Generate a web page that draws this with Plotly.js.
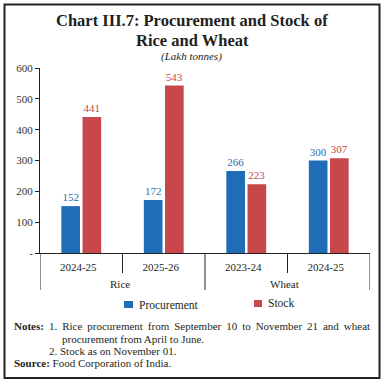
<!DOCTYPE html>
<html>
<head>
<meta charset="utf-8">
<script src="https://cdn.plot.ly/plotly-3.0.1.min.js"></script>
<style>html,body{margin:0;padding:0;background:#fff;}#chart{width:384px;height:384px;}</style>
</head>
<body>
<div id="chart"></div>
<script>
const groups = ["Rice", "Rice", "Wheat", "Wheat"];
const years = ["2024-25", "2025-26", "2023-24", "2024-25"];
const procurement = [152, 172, 266, 300];
const stock = [441, 543, 223, 307];
const yTickVals = [0, 100, 200, 300, 400, 500, 600];
const yTickText = ["-", "100", "200", "300", "400", "500", "600"];
const groupNames = ["Rice", "Wheat"];
const seriesNames = ["Procurement", "Stock"];

const BLUE = "#1f6db6";
const RED = "#c8474b";
const INK = "#231f20";
const FONT = "Liberation Serif";

// plot area in pixels
const L = 40, R = 14, T = 68, B = 131;
const W = 384 - L - R, H = 384 - T - B;
const px = x => (x - L) / W;
const py = y => (384 - B - y) / H;
const yPaperPix = y => py(y);

const keys = groups.map((g, i) => g + "|" + years[i]);
const justify = s => s.split(" ").join(" \u2009");

const traces = [
  {
    type: "bar", name: seriesNames[0],
    x: keys, y: procurement,
    marker: {color: BLUE},
    text: procurement.map(String), textposition: "outside",
    textfont: {color: BLUE, family: FONT, size: 11},
    cliponaxis: false
  },
  {
    type: "bar", name: seriesNames[1],
    x: keys, y: stock,
    marker: {color: RED},
    text: stock.map(String), textposition: "outside",
    textfont: {color: RED, family: FONT, size: 11},
    cliponaxis: false
  }
];

// group centres (in category index units)
const groupCentres = groupNames.map(g => {
  const idx = groups.map((v, i) => v === g ? i : -1).filter(i => i >= 0);
  return (idx[0] + idx[idx.length - 1]) / 2;
});

const dividerShapes = [];
for (let i = 0; i <= groups.length; i++) {
  const isGroupEdge = i === 0 || i === groups.length || groups[i] !== groups[i - 1];
  dividerShapes.push({
    type: "line", xref: "x", yref: "paper",
    x0: i - 0.5, x1: i - 0.5, y0: 0, y1: py(isGroupEdge ? 290 : 273),
    line: {color: "#222", width: 1}
  });
}

const annotations = [
  {xref: "paper", yref: "paper", x: px(192), y: py(20), text: "<b>Chart III.7: Procurement and Stock of</b>",
   showarrow: false, font: {family: FONT, size: 16.5, color: INK}, xanchor: "center", yanchor: "middle"},
  {xref: "paper", yref: "paper", x: px(192), y: py(40), text: "<b>Rice and Wheat</b>",
   showarrow: false, font: {family: FONT, size: 16.5, color: INK}, xanchor: "center", yanchor: "middle"},
  {xref: "paper", yref: "paper", x: px(191), y: py(57), text: "<i>(Lakh tonnes)</i>",
   showarrow: false, font: {family: FONT, size: 11, color: INK}, xanchor: "center", yanchor: "middle"},
  {xref: "paper", yref: "paper", x: px(12), y: py(326), text: "<b>Notes:</b>",
   showarrow: false, font: {family: FONT, size: 11, color: INK}, xanchor: "left", yanchor: "middle"},
  {xref: "paper", yref: "paper", x: px(47), y: py(326), text: justify("1. Rice procurement from September 10 to November 21 and wheat"),
   showarrow: false, font: {family: FONT, size: 11, color: INK}, xanchor: "left", yanchor: "middle"},
  {xref: "paper", yref: "paper", x: px(60), y: py(339), text: "procurement from April to June.",
   showarrow: false, font: {family: FONT, size: 11, color: INK}, xanchor: "left", yanchor: "middle"},
  {xref: "paper", yref: "paper", x: px(47), y: py(351), text: "2. Stock as on November 01.",
   showarrow: false, font: {family: FONT, size: 11, color: INK}, xanchor: "left", yanchor: "middle"},
  {xref: "paper", yref: "paper", x: px(12), y: py(363), text: "<b>Source:</b> Food Corporation of India.",
   showarrow: false, font: {family: FONT, size: 11, color: INK}, xanchor: "left", yanchor: "middle"},
  // legend texts
  {xref: "paper", yref: "paper", x: px(137), y: py(305), text: seriesNames[0],
   showarrow: false, font: {family: FONT, size: 11.5, color: INK}, xanchor: "left", yanchor: "middle"},
  {xref: "paper", yref: "paper", x: px(266), y: py(303), text: seriesNames[1],
   showarrow: false, font: {family: FONT, size: 11.5, color: INK}, xanchor: "left", yanchor: "middle"}
];
groupNames.forEach((g, k) => {
  annotations.push({xref: "x", yref: "paper", x: groupCentres[k], xshift: -3, y: py(284), text: g,
    showarrow: false, font: {family: FONT, size: 11, color: INK}, xanchor: "center", yanchor: "middle"});
});

const legendShapes = [
  {type: "rect", xref: "paper", yref: "paper", x0: px(124), x1: px(133), y0: py(301), y1: py(308),
   line: {width: 0}, fillcolor: BLUE},
  {type: "rect", xref: "paper", yref: "paper", x0: px(254), x1: px(262), y0: py(300), y1: py(307),
   line: {width: 0}, fillcolor: RED}
];

const layout = {
  width: 384, height: 384,
  margin: {l: L, r: R, t: T, b: B},
  paper_bgcolor: "#fff", plot_bgcolor: "#fff",
  font: {family: FONT, size: 11, color: INK},
  barmode: "group", bargap: 0.486, bargroupgap: 0.12,
  showlegend: false,
  xaxis: {
    type: "category", range: [-0.5, groups.length - 0.5],
    tickvals: keys, ticktext: years,
    showline: true, linecolor: "#222", linewidth: 1,
    ticks: "", ticklabelshift: -3, ticklabelstandoff: 4,
    tickfont: {family: FONT, size: 11, color: INK},
    showgrid: false, zeroline: false
  },
  yaxis: {
    range: [0, 600], tickvals: yTickVals, ticktext: yTickText,
    showline: true, linecolor: "#222", linewidth: 1,
    ticks: "outside", ticklen: 4, tickcolor: "#222",
    showgrid: false, zeroline: false,
    tickfont: {family: FONT, size: 11, color: "#333"}
  },
  annotations: annotations,
  shapes: [
    {type: "rect", xref: "paper", yref: "paper", x0: px(4.5), x1: px(379.5), y0: py(4.5), y1: py(378),
     line: {color: "#222", width: 2}, fillcolor: "rgba(0,0,0,0)", layer: "below"}
  ].concat(dividerShapes, legendShapes)
};

Plotly.newPlot("chart", traces, layout, {displayModeBar: false, staticPlot: true});
</script>
</body>
</html>
